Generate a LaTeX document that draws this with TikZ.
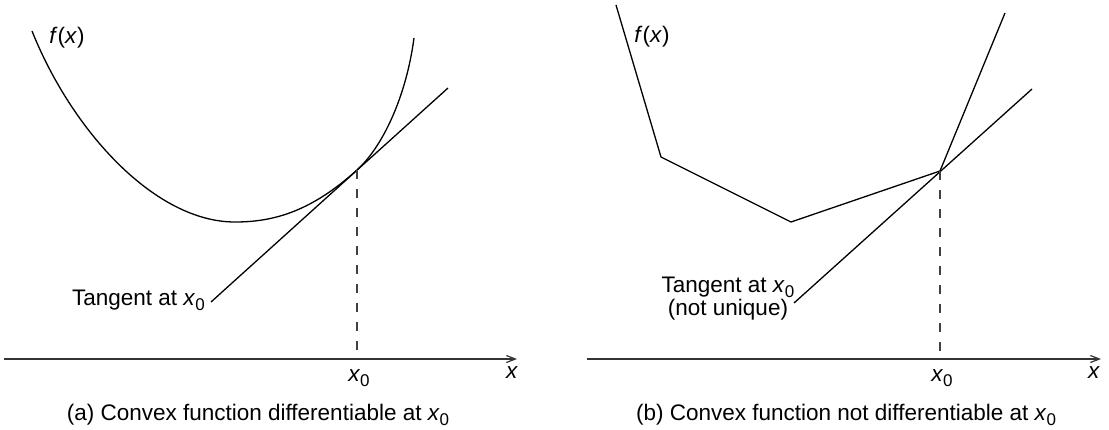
\documentclass[tikz,border=0pt]{standalone}
\usepackage{fontspec}
\setmainfont{Liberation Sans}
\usetikzlibrary{arrows.meta}
\newcommand{\xsub}{\textit{x}\raisebox{-5pt}{\fontsize{17}{17}\selectfont 0}}
\newcommand{\fx}{\textit{f}(\textit{x})}
\tikzset{
  curveline/.style={line width=1.3pt, black, line join=round},
  axisline/.style={line width=1.5pt, black!80, -{Straight Barb[length=9pt,width=7pt,line width=1.2pt]}},
  dropline/.style={line width=1.4pt, black!75, dash pattern=on 9pt off 10pt},
  lbl/.style={inner sep=0pt, font=\fontsize{22.5}{20}\selectfont}
}
\begin{document}
\begin{tikzpicture}[x=1pt,y=-1pt]
\useasboundingbox (0,0) rectangle (1109,429);
% ---------- panel (a) ----------
\coordinate (aS) at (32,31);
\coordinate (aM) at (235,222);
\coordinate (aT) at (357,170);
\coordinate (aE) at (414,38);
\coordinate (aL) at (211,302);
\coordinate (aR) at (448,88);
\coordinate (aF) at (357,353);
\coordinate (aX0) at (4,359);
\coordinate (aX1) at (517,359);
\draw[curveline] (aS) .. controls (72,131) and (155,222) .. (aM)
  .. controls (275,222) and (312,210.6) .. (aT)
  .. controls (382,147.4) and (406,98) .. (aE);
\draw[curveline] (aL) -- (aR);
\draw[dropline] (aT) -- (aF);
\draw[axisline] (aX0) -- (aX1);
\node[lbl] (afx) at (67,38) {\fx};
\node[lbl, anchor=base east] (atan) at (205,305) {Tangent at \xsub};
\node[lbl] (ax0) at (359,378) {\xsub};
\node[lbl] (ax) at (512,373) {\textit{x}};
\node[lbl, anchor=base] (acap) at (258,420) {(a) Convex function differentiable at \xsub};
% ---------- panel (b) ----------
\coordinate (bS) at (616,5);
\coordinate (bK) at (661,157);
\coordinate (bM) at (791,222);
\coordinate (bT) at (940,171);
\coordinate (bE) at (1005,13);
\coordinate (bL) at (794,303);
\coordinate (bR) at (1032,89);
\coordinate (bF) at (940,353);
\coordinate (bX0) at (587,359);
\coordinate (bX1) at (1101,359);
\draw[curveline] (bS) -- (bK) -- (bM) -- (bT) -- (bE);
\draw[curveline] (bL) -- (bR);
\draw[dropline] (bT) -- (bF);
\draw[axisline] (bX0) -- (bX1);
\node[lbl] (bfx) at (652,37) {\fx};
\node[lbl, anchor=north, align=center] (btan) at (728,277) {Tangent at \xsub\\(not unique)};
\node[lbl] (bx0) at (942,378) {\xsub};
\node[lbl] (bx) at (1094,373) {\textit{x}};
\node[lbl, anchor=base] (bcap) at (846,420) {(b) Convex function not differentiable at \xsub};
\end{tikzpicture}
\end{document}
